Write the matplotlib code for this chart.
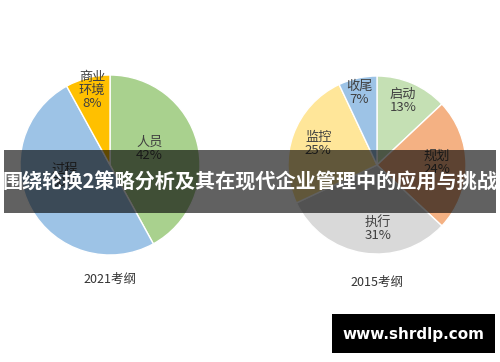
import matplotlib
matplotlib.use("Agg")
import matplotlib.pyplot as plt
from matplotlib.patches import Rectangle

plt.rcParams['font.family'] = ['Noto Sans CJK SC', 'DejaVu Sans']

# 2021考纲
names_2021 = ["人员", "过程", "商业\n环境"]
shares_2021 = [42, 50, 8]
colors_2021 = ["#a9d18e", "#9dc3e6", "#ffc000"]
# label block positions relative to pie centre, in radius units
pos_2021 = [(0.44, 0.18), (-0.5, -0.12), (-0.2, 0.83)]

# 2015考纲
names_2015 = ["启动", "规划", "执行", "监控", "收尾"]
shares_2015 = [13, 24, 31, 25, 7]
colors_2015 = ["#c5e0b4", "#f4b183", "#d9d9d9", "#ffe699", "#9dc3e6"]
pos_2015 = [(0.29, 0.72), (0.67, 0.02), (0.01, -0.72), (-0.66, 0.24), (-0.2, 0.81)]

title = "围绕轮换2策略分析及其在现代企业管理中的应用与挑战"
W, H = 500, 362

fig = plt.figure(figsize=(W / 100, H / 100), dpi=100)


def draw_pie(cx, cy, r, shares, colors, names, pos, caption, cap_y):
    ax = fig.add_axes([(cx - r) / W, (H - cy - r) / H, 2 * r / W, 2 * r / H])
    ax.pie(shares, colors=colors, startangle=90, counterclock=False, radius=1,
           wedgeprops=dict(edgecolor="white", linewidth=1))
    for name, share, (px, py) in zip(names, shares, pos):
        ax.text(px, py, f"{name}\n{share}%", ha="center", va="center",
                fontsize=9.5, color="#404040", linespacing=1.0)
    ax.set_xlim(-1, 1)
    ax.set_ylim(-1, 1)
    ax.axis("off")
    fig.text(cx / W, 1 - cap_y / H, caption, ha="center", va="center",
             fontsize=9, color="#333333")


draw_pie(110, 165, 90, shares_2021, colors_2021, names_2021, pos_2021, "2021考纲", 279)
draw_pie(377, 165, 89, shares_2015, colors_2015, names_2015, pos_2015, "2015考纲", 282)

# banner
fig.patches.append(Rectangle((4 / W, 1 - 213 / H), 492 / W, 63 / H,
                             transform=fig.transFigure, facecolor="black",
                             alpha=0.62, edgecolor="none", zorder=10))
fig.text(0.5, 1 - 182 / H, title, ha="center", va="center", fontsize=14.5,
         fontweight="bold", color="white", zorder=11)

# watermark
fig.patches.append(Rectangle((332 / W, 1 - 353 / H), 163 / W, 39 / H,
                             transform=fig.transFigure, facecolor="black",
                             edgecolor="none", zorder=10))
fig.text(413 / W, 1 - 334 / H, "www.shrdlp.com", ha="center", va="center",
         fontsize=11, fontweight="bold", color="white", zorder=11,
         family="DejaVu Sans")

fig.savefig("out.png", dpi=100)
